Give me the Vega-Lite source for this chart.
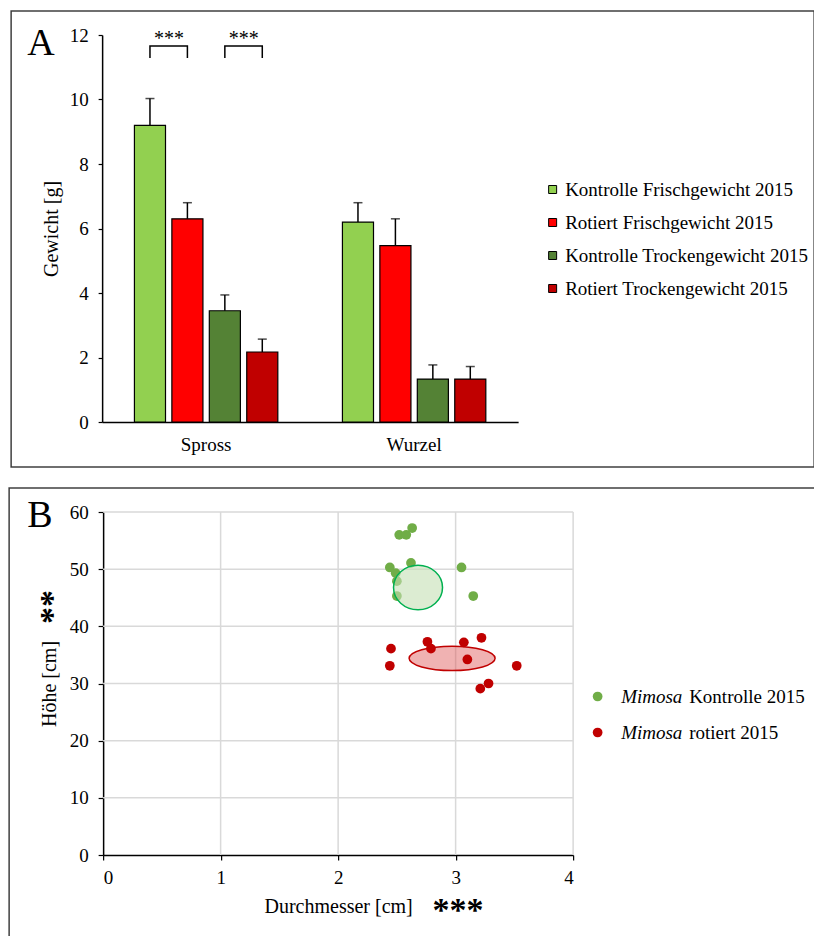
{
  "$schema": "https://vega.github.io/schema/vega-lite/v6.json",
  "padding": {"left": 8, "top": 10, "right": 0, "bottom": 0},
  "spacing": 19,
  "center": true,
  "resolve": {"scale": {"color": "independent", "shape": "independent", "x": "independent", "y": "independent"}, "legend": {"color": "independent", "shape": "independent"}},
  "datasets": {
    "gewicht": [
      {"organ": "Spross", "serie": "Kontrolle Frischgewicht 2015", "wert": 9.2, "oben": 10.03},
      {"organ": "Spross", "serie": "Rotiert Frischgewicht 2015", "wert": 6.3, "oben": 6.8},
      {"organ": "Spross", "serie": "Kontrolle Trockengewicht 2015", "wert": 3.45, "oben": 3.94},
      {"organ": "Spross", "serie": "Rotiert Trockengewicht 2015", "wert": 2.17, "oben": 2.57},
      {"organ": "Wurzel", "serie": "Kontrolle Frischgewicht 2015", "wert": 6.2, "oben": 6.8},
      {"organ": "Wurzel", "serie": "Rotiert Frischgewicht 2015", "wert": 5.47, "oben": 6.3},
      {"organ": "Wurzel", "serie": "Kontrolle Trockengewicht 2015", "wert": 1.33, "oben": 1.77},
      {"organ": "Wurzel", "serie": "Rotiert Trockengewicht 2015", "wert": 1.33, "oben": 1.72}
    ],
    "klammern": [
      {"paar": 1, "schritt": 1, "organ": "Spross", "serie": "Kontrolle Frischgewicht 2015", "h": 11.29},
      {"paar": 1, "schritt": 2, "organ": "Spross", "serie": "Kontrolle Frischgewicht 2015", "h": 11.66},
      {"paar": 1, "schritt": 3, "organ": "Spross", "serie": "Rotiert Frischgewicht 2015", "h": 11.66},
      {"paar": 1, "schritt": 4, "organ": "Spross", "serie": "Rotiert Frischgewicht 2015", "h": 11.29},
      {"paar": 2, "schritt": 1, "organ": "Spross", "serie": "Kontrolle Trockengewicht 2015", "h": 11.29},
      {"paar": 2, "schritt": 2, "organ": "Spross", "serie": "Kontrolle Trockengewicht 2015", "h": 11.66},
      {"paar": 2, "schritt": 3, "organ": "Spross", "serie": "Rotiert Trockengewicht 2015", "h": 11.66},
      {"paar": 2, "schritt": 4, "organ": "Spross", "serie": "Rotiert Trockengewicht 2015", "h": 11.29}
    ],
    "sterne": [
      {"organ": "Spross", "serie": "Kontrolle Frischgewicht 2015", "h": 11.88, "text": "***"},
      {"organ": "Spross", "serie": "Kontrolle Trockengewicht 2015", "h": 11.88, "text": "***"}
    ],
    "pflanzen": [
      {"gruppe": "Mimosa Kontrolle 2015", "d": 2.52, "hoehe": 56.0},
      {"gruppe": "Mimosa Kontrolle 2015", "d": 2.58, "hoehe": 56.0},
      {"gruppe": "Mimosa Kontrolle 2015", "d": 2.63, "hoehe": 57.2},
      {"gruppe": "Mimosa Kontrolle 2015", "d": 2.44, "hoehe": 50.3},
      {"gruppe": "Mimosa Kontrolle 2015", "d": 2.62, "hoehe": 51.1},
      {"gruppe": "Mimosa Kontrolle 2015", "d": 2.49, "hoehe": 49.3},
      {"gruppe": "Mimosa Kontrolle 2015", "d": 2.5, "hoehe": 47.9},
      {"gruppe": "Mimosa Kontrolle 2015", "d": 2.5, "hoehe": 45.3},
      {"gruppe": "Mimosa Kontrolle 2015", "d": 3.05, "hoehe": 50.3},
      {"gruppe": "Mimosa Kontrolle 2015", "d": 3.15, "hoehe": 45.3},
      {"gruppe": "Mimosa rotiert 2015", "d": 2.45, "hoehe": 36.1},
      {"gruppe": "Mimosa rotiert 2015", "d": 2.44, "hoehe": 33.1},
      {"gruppe": "Mimosa rotiert 2015", "d": 2.76, "hoehe": 37.3},
      {"gruppe": "Mimosa rotiert 2015", "d": 2.79, "hoehe": 36.1},
      {"gruppe": "Mimosa rotiert 2015", "d": 3.07, "hoehe": 37.2},
      {"gruppe": "Mimosa rotiert 2015", "d": 3.22, "hoehe": 38.0},
      {"gruppe": "Mimosa rotiert 2015", "d": 3.1, "hoehe": 34.2},
      {"gruppe": "Mimosa rotiert 2015", "d": 3.52, "hoehe": 33.1},
      {"gruppe": "Mimosa rotiert 2015", "d": 3.21, "hoehe": 29.1},
      {"gruppe": "Mimosa rotiert 2015", "d": 3.28, "hoehe": 30.0}
    ],
    "mittel": [
      {"gruppe": "Mimosa Kontrolle 2015", "d": 2.68, "hoehe": 46.8},
      {"gruppe": "Mimosa rotiert 2015", "d": 2.97, "hoehe": 34.4}
    ],
    "gitter_x": [{"g": 1}, {"g": 2}, {"g": 3}, {"g": 4}],
    "gitter_y": [{"g": 10}, {"g": 20}, {"g": 30}, {"g": 40}, {"g": 50}, {"g": 60}]
  },
  "vconcat": [
    {
      "width": 803,
      "height": 456,
      "title": {"text": "A", "anchor": "start", "frame": "group", "orient": "top", "offset": -82, "dx": 16, "baseline": "alphabetic", "fontSize": 38, "font": "Liberation Serif", "fontWeight": "normal", "color": "black"},
      "layer": [
        {
          "data": {"name": "gewicht"},
          "mark": {"type": "bar", "stroke": "black", "strokeWidth": 1.2},
          "encoding": {
            "x": {"field": "organ", "type": "nominal", "scale": {"range": [91, 507], "paddingInner": 0.28, "paddingOuter": 0.14},
                  "axis": {"title": null, "ticks": false, "labelAngle": 0, "labelPadding": 13, "offset": -45}},
            "xOffset": {"field": "serie", "type": "nominal", "sort": ["Kontrolle Frischgewicht 2015", "Rotiert Frischgewicht 2015", "Kontrolle Trockengewicht 2015", "Rotiert Trockengewicht 2015"], "scale": {"paddingInner": 0.17, "paddingOuter": 0.085}},
            "y": {"field": "wert", "type": "quantitative", "scale": {"domain": [0, 12], "range": [411, 24], "nice": false},
                  "axis": {"title": "Gewicht  [g]", "values": [0, 2, 4, 6, 8, 10, 12], "grid": false, "tickSize": 4, "labelPadding": 10, "titlePadding": 8, "offset": -91}},
            "color": {"field": "serie", "type": "nominal",
                      "scale": {"domain": ["Kontrolle Frischgewicht 2015", "Rotiert Frischgewicht 2015", "Kontrolle Trockengewicht 2015", "Rotiert Trockengewicht 2015"], "range": ["#92D050", "#FF0000", "#548235", "#C00000"]},
                      "legend": {"orient": "none", "legendX": 532, "legendY": 169, "title": null, "symbolType": "square", "symbolSize": 64, "symbolStrokeColor": "black", "symbolStrokeWidth": 1, "labelFontSize": 19, "labelLimit": 0, "rowPadding": 13, "labelOffset": 3}}
          }
        },
        {
          "data": {"name": "gewicht"},
          "mark": {"type": "rule", "color": "black", "strokeWidth": 1.5},
          "encoding": {
            "x": {"field": "organ", "type": "nominal"},
            "xOffset": {"field": "serie", "type": "nominal", "sort": ["Kontrolle Frischgewicht 2015", "Rotiert Frischgewicht 2015", "Kontrolle Trockengewicht 2015", "Rotiert Trockengewicht 2015"]},
            "y": {"field": "wert", "type": "quantitative"},
            "y2": {"field": "oben"}
          }
        },
        {
          "data": {"name": "gewicht"},
          "mark": {"type": "tick", "color": "black", "size": 9, "thickness": 1.5},
          "encoding": {
            "x": {"field": "organ", "type": "nominal"},
            "xOffset": {"field": "serie", "type": "nominal", "sort": ["Kontrolle Frischgewicht 2015", "Rotiert Frischgewicht 2015", "Kontrolle Trockengewicht 2015", "Rotiert Trockengewicht 2015"]},
            "y": {"field": "oben", "type": "quantitative"}
          }
        },
        {
          "data": {"name": "klammern"},
          "mark": {"type": "line", "color": "black", "strokeWidth": 1.5},
          "encoding": {
            "x": {"field": "organ", "type": "nominal"},
            "xOffset": {"field": "serie", "type": "nominal", "sort": ["Kontrolle Frischgewicht 2015", "Rotiert Frischgewicht 2015", "Kontrolle Trockengewicht 2015", "Rotiert Trockengewicht 2015"]},
            "y": {"field": "h", "type": "quantitative"},
            "detail": {"field": "paar"},
            "order": {"field": "schritt"}
          }
        },
        {
          "data": {"name": "sterne"},
          "mark": {"type": "text", "fontSize": 20, "dx": 19, "baseline": "middle", "color": "black"},
          "encoding": {
            "x": {"field": "organ", "type": "nominal"},
            "xOffset": {"field": "serie", "type": "nominal", "sort": ["Kontrolle Frischgewicht 2015", "Rotiert Frischgewicht 2015", "Kontrolle Trockengewicht 2015", "Rotiert Trockengewicht 2015"]},
            "y": {"field": "h", "type": "quantitative"},
            "text": {"field": "text"}
          }
        }
      ]
    },
    {
      "width": 807,
      "height": 455,
      "title": {"text": "B", "anchor": "start", "frame": "group", "orient": "top", "offset": -77, "dx": 18, "baseline": "alphabetic", "fontSize": 38, "font": "Liberation Serif", "fontWeight": "normal", "color": "black"},
      "layer": [
        {
          "data": {"name": "gitter_y"},
          "mark": {"type": "rule", "color": "#d9d9d9", "strokeWidth": 1.5},
          "encoding": {
            "y": {"field": "g", "type": "quantitative", "scale": {"domain": [0, 60], "range": [367, 24], "nice": false},
                  "axis": {"title": "Höhe [cm]", "values": [0, 10, 20, 30, 40, 50, 60], "format": "d", "grid": false, "tickSize": 5, "labelPadding": 10, "titlePadding": 10, "offset": -94}},
            "x": {"datum": 0, "type": "quantitative", "scale": {"domain": [0, 4], "range": [94, 564], "nice": false},
                  "axis": {"title": "Durchmesser [cm]", "values": [0, 1, 2, 3, 4], "format": "d", "grid": false, "tickSize": 5, "labelPadding": 8, "titlePadding": 9, "offset": -88}},
            "x2": {"datum": 4}
          }
        },
        {
          "data": {"name": "gitter_x"},
          "mark": {"type": "rule", "color": "#d9d9d9", "strokeWidth": 1.5},
          "encoding": {
            "x": {"field": "g", "type": "quantitative"},
            "y": {"datum": 0},
            "y2": {"datum": 60}
          }
        },
        {
          "data": {"name": "mittel"},
          "transform": [{"filter": "datum.gruppe === 'Mimosa rotiert 2015'"}],
          "mark": {"type": "point", "filled": true, "shape": "M-1,0C-1,-0.1567,-0.5523,-0.2837,0,-0.2837C0.5523,-0.2837,1,-0.1567,1,0C1,0.1567,0.5523,0.2837,0,0.2837C-0.5523,0.2837,-1,0.1567,-1,0Z", "size": 7396, "fill": "#dd5555", "fillOpacity": 0.45, "stroke": "#C00000", "strokeWidth": 1.5, "opacity": 1},
          "encoding": {
            "x": {"field": "d", "type": "quantitative"},
            "y": {"field": "hoehe", "type": "quantitative"}
          }
        },
        {
          "data": {"name": "pflanzen"},
          "mark": {"type": "point", "filled": true, "size": 95, "opacity": 1},
          "encoding": {
            "x": {"field": "d", "type": "quantitative"},
            "y": {"field": "hoehe", "type": "quantitative"},
            "color": {"field": "gruppe", "type": "nominal",
                      "scale": {"domain": ["Mimosa Kontrolle 2015", "Mimosa rotiert 2015"], "range": ["#70AD47", "#C00000"]},
                      "legend": {"orient": "none", "legendX": 579, "legendY": 199, "title": null, "symbolType": "circle", "symbolSize": 95, "labelFontSize": 19, "labelLimit": 0, "rowPadding": 16, "labelOffset": 82,
                                 "labelExpr": "datum.label === 'Mimosa Kontrolle 2015' ? 'Kontrolle 2015' : 'rotiert 2015'"}},
            "shape": {"field": "gruppe", "type": "nominal",
                      "scale": {"domain": ["Mimosa rotiert 2015", "Mimosa Kontrolle 2015"], "range": ["circle", "circle"]},
                      "legend": {"orient": "none", "legendX": 579, "legendY": 199, "title": null, "symbolSize": 95, "symbolOpacity": 0, "symbolStrokeWidth": 0, "labelFontSize": 19, "labelFontStyle": "italic", "labelLimit": 0, "rowPadding": 16, "labelOffset": 14,
                                 "labelExpr": "'Mimosa'"}}
          }
        },
        {
          "data": {"name": "mittel"},
          "transform": [{"filter": "datum.gruppe === 'Mimosa Kontrolle 2015'"}],
          "mark": {"type": "point", "filled": true, "shape": "M-1,0C-1,-0.5026,-0.5523,-0.91,0,-0.91C0.5523,-0.91,1,-0.5026,1,0C1,0.5026,0.5523,0.91,0,0.91C-0.5523,0.91,-1,0.5026,-1,0Z", "size": 2401, "fill": "#c5e0b4", "fillOpacity": 0.6, "stroke": "#00B050", "strokeWidth": 1.5, "opacity": 1},
          "encoding": {
            "x": {"field": "d", "type": "quantitative"},
            "y": {"field": "hoehe", "type": "quantitative"}
          }
        },
        {
          "data": {"values": [{"text": "***", "d": 3.02, "hoehe": -9.8}]},
          "mark": {"type": "text", "fontSize": 34, "fontWeight": "bold", "baseline": "middle", "align": "center", "color": "black"},
          "encoding": {
            "x": {"field": "d", "type": "quantitative"},
            "y": {"field": "hoehe", "type": "quantitative"},
            "text": {"field": "text"}
          }
        },
        {
          "data": {"values": [{"text": "**", "d": -0.43, "hoehe": 43.4}]},
          "mark": {"type": "text", "fontSize": 34, "fontWeight": "bold", "baseline": "middle", "align": "center", "angle": 270, "color": "black"},
          "encoding": {
            "x": {"field": "d", "type": "quantitative"},
            "y": {"field": "hoehe", "type": "quantitative"},
            "text": {"field": "text"}
          }
        }
      ]
    }
  ],
  "config": {
    "font": "Liberation Serif",
    "view": {"stroke": "#404040", "strokeWidth": 1.5},
    "axis": {"labelFont": "Liberation Serif", "titleFont": "Liberation Serif", "labelFontSize": 19, "titleFontSize": 20, "labelColor": "black", "titleColor": "black", "titleFontWeight": "normal", "domainColor": "black", "domainWidth": 1.5, "tickColor": "black", "tickWidth": 1.2},
    "legend": {"labelFont": "Liberation Serif", "labelFontSize": 19, "labelColor": "black"}
  }
}
